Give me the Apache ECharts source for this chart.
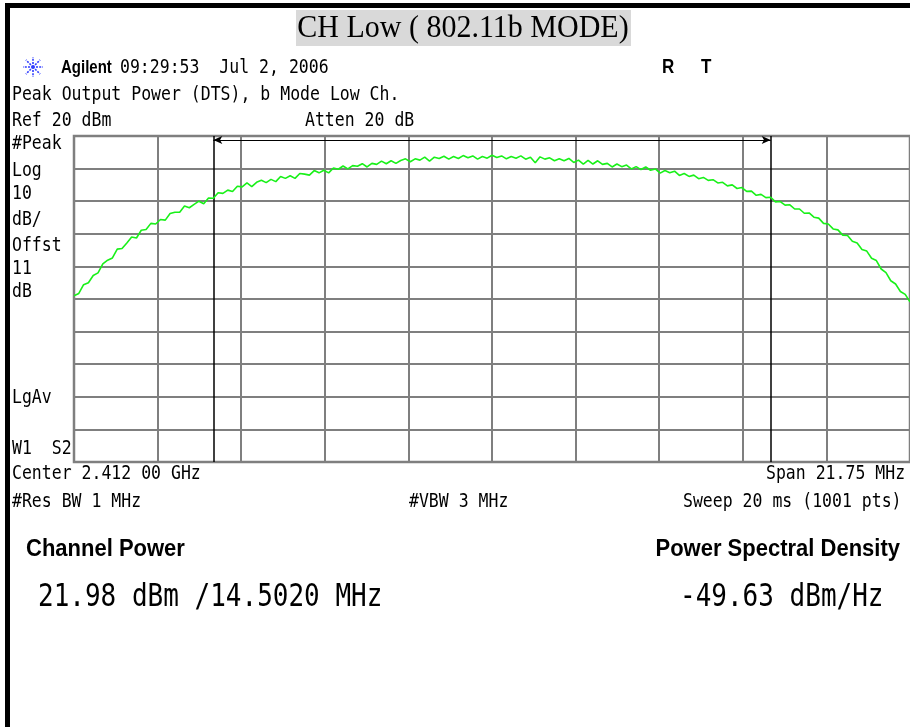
<!DOCTYPE html>
<html>
<head>
    <meta charset="utf-8">
    <title>CH Low (802.11b MODE)</title>
    <script src="https://cdn.jsdelivr.net/npm/echarts@6/dist/echarts.min.js"></script>
    <style>
        body { margin: 0; background: #fff; }
        #chart1 { width: 910px; height: 727px; }
    </style>
</head>
<body>
<div id="chart1"></div>

<script>
    // sweep settings
    var centerGHz = 2.412;
    var spanKHz = 21750;           // Span 21.75 MHz, x axis is offset from center in kHz
    var channelBwKHz = 14502;      // integration bandwidth (the two black lines)
    var refLevelDbm = 20;
    var dbPerDiv = 10;
    var arrowLevelDbm = 18.8;      // where the bandwidth arrow sits

    // trace level (dBm), evenly spaced over the span
    var levelDbm = [
        -29.0, -28.3, -25.6, -25.0, -22.8, -22.0, -19.2, -18.1, -17.4, -14.7,
        -14.5, -12.8, -11.0, -11.3, -8.9, -8.7, -6.8, -7.0, -5.6, -5.8,
        -3.8, -3.4, -3.4, -1.5, -2.0, -1.0, 0.0, -0.8, 1.0, 0.9,
        2.6, 2.4, 3.4, 3.0, 4.6, 4.4, 5.6, 4.5, 5.8, 6.4,
        5.7, 6.7, 6.0, 7.6, 7.0, 7.8, 7.0, 8.5, 8.3, 8.0,
        9.4, 8.7, 9.5, 8.7, 10.2, 9.8, 10.8, 9.9, 10.9, 10.7,
        11.5, 10.5, 11.6, 11.3, 12.3, 11.5, 12.4, 11.6, 12.5, 13.0,
        12.1, 13.0, 12.6, 13.5, 12.3, 13.5, 13.1, 13.8, 12.9, 13.7,
        13.1, 14.0, 13.3, 13.9, 12.9, 13.7, 13.2, 14.1, 13.4, 13.9,
        13.0, 13.7, 13.2, 13.9, 12.9, 13.5,
        11.8, 13.6, 12.9, 13.3, 12.4, 13.0, 12.4, 13.1, 11.9, 12.6,
        11.4, 12.5, 11.4, 12.4, 11.3, 11.6, 10.5, 11.4, 10.6, 11.1,
        9.9, 10.6, 9.7, 10.5, 9.5, 9.9, 8.6, 9.4, 8.7, 9.2,
        7.9, 8.5, 7.6, 8.0, 6.9, 7.3, 6.4, 6.6, 5.6, 5.8,
        4.7, 5.0, 3.9, 4.2, 3.0, 3.1, 1.8, 2.1, 1.1, 1.2,
        -0.2, -0.1, -1.2, -1.1, -2.4, -2.4, -3.7, -3.6, -4.9, -5.2,
        -6.8, -7.0, -8.5, -8.8, -10.4, -10.5, -12.3, -12.8, -14.8, -15.3,
        -17.5, -18.2, -20.8, -21.9, -24.4, -25.4, -27.7, -28.6, -30.9
    ];

    var leftLabels = ['#Peak', 'Log', '10', 'dB/', 'Offst', '11', 'dB', 'LgAv', 'W1  S2'];
    var leftLabelY = [144, 171, 194, 220, 246, 269, 292, 398, 449];

    // x of each trace point (analyzer bins across the span)
    var stepKHz = spanKHz / (levelDbm.length - 1);
    var trace = levelDbm.map(function (v, i) {
        return [-spanKHz / 2 + i * stepKHz, v];
    });

    var MONO = '"DejaVu Sans Mono", monospace';
    var SANS = '"Liberation Sans", Arial, sans-serif';

    // monospaced screen text, stretched a bit to look like the analyzer font
    function txt(s, x, y, size, opts) {
        opts = opts || {};
        return {
            type: 'text', x: x, y: y, scaleY: opts.sy || 1.2, z: 100,
            style: {
                text: s, font: (opts.bold ? 'bold ' : '') + size + 'px ' + (opts.family || MONO),
                fill: '#000', textAlign: opts.align || 'left', textVerticalAlign: 'middle'
            }
        };
    }

    var g = [
        // black frame bits
        { type: 'rect', shape: { x: 5, y: 3, width: 905, height: 5 }, style: { fill: '#000' } },
        { type: 'rect', shape: { x: 5, y: 3, width: 5, height: 724 }, style: { fill: '#000' } },
        // title
        { type: 'rect', shape: { x: 296, y: 10, width: 335, height: 36 }, style: { fill: '#d9d9d9' } },
        txt('CH Low ( 802.11b MODE)', 463, 28, 30, { family: '"Liberation Serif", "Times New Roman", serif', align: 'center', sy: 1.08 }),
        // header
        txt('Agilent', 61, 68, 15, { family: SANS, bold: true, sy: 1.2 }),
        txt('09:29:53  Jul 2, 2006', 120, 68, 16.5),
        txt('R', 662, 68, 17, { family: SANS, bold: true, sy: 1.15 }),
        txt('T', 701, 68, 17, { family: SANS, bold: true, sy: 1.15 }),
        txt('Peak Output Power (DTS), b Mode Low Ch.', 12, 95, 16.5),
        txt('Ref 20 dBm', 12, 121, 16.5),
        txt('Atten 20 dB', 305, 121, 16.5),
        // footer
        txt('Center 2.412 00 GHz', 12, 474, 16.5),
        txt('Span 21.75 MHz', 766, 474, 16.5),
        txt('#Res BW 1 MHz', 12, 502, 16.5),
        txt('#VBW 3 MHz', 409, 502, 16.5),
        txt('Sweep 20 ms (1001 pts)', 683, 502, 16.5),
        txt('Channel Power', 26, 550, 22, { family: SANS, bold: true, sy: 1.05 }),
        txt('Power Spectral Density', 900, 550, 22, { family: SANS, bold: true, sy: 1.05, align: 'right' }),
        txt('21.98 dBm /14.5020 MHz', 38, 598, 26, { sy: 1.22 }),
        txt('-49.63 dBm/Hz', 680, 598, 26, { sy: 1.22 })
    ];

    leftLabels.forEach(function (s, i) {
        g.push(txt(s, 12, leftLabelY[i], 16.5));
    });

    // Agilent spark logo
    for (var k = 0; k < 8; k++) {
        var a = k * Math.PI / 4;
        g.push({
            type: 'line',
            shape: { x1: 33 + 3 * Math.cos(a), y1: 67 + 3 * Math.sin(a), x2: 33 + 10 * Math.cos(a), y2: 67 + 10 * Math.sin(a) },
            style: { stroke: '#2f3cff', lineWidth: 1.6, lineDash: [2, 1.2] }
        });
    }
    g.push({ type: 'circle', shape: { cx: 33, cy: 67, r: 2 }, style: { fill: '#2f3cff' } });

    var myChart1 = echarts.init(document.getElementById('chart1'));

    myChart1.setOption({
        animation: false,
        backgroundColor: '#fff',
        graphic: g,
        grid: {
            left: 74, top: 136, width: 842, height: 326,
            show: true, borderColor: '#808080', borderWidth: 2.5, backgroundColor: '#fff'
        },
        xAxis: {
            type: 'value',
            min: -spanKHz / 2, max: spanKHz / 2, interval: spanKHz / 10,
            axisLine: { show: false }, axisTick: { show: false }, axisLabel: { show: false },
            splitLine: { lineStyle: { color: '#7f7f7f', width: 2 } }
        },
        yAxis: {
            type: 'value',
            min: refLevelDbm - 10 * dbPerDiv, max: refLevelDbm, interval: dbPerDiv,
            axisLine: { show: false }, axisTick: { show: false }, axisLabel: { show: false },
            splitLine: { lineStyle: { color: '#7f7f7f', width: 2 } }
        },
        series: [{
            name: 'trace',
            type: 'line',
            data: trace,
            showSymbol: false,
            lineStyle: { color: '#19f019', width: 1.6 },
            z: 5,
            markLine: {
                silent: true,
                symbol: 'none',
                label: { show: false },
                data: [
                    { xAxis: -channelBwKHz / 2, lineStyle: { color: '#000', width: 1.5, type: 'solid' } },
                    { xAxis: channelBwKHz / 2, lineStyle: { color: '#000', width: 1.5, type: 'solid' } },
                    [
                        { coord: [-channelBwKHz / 2, arrowLevelDbm], symbol: 'arrow', symbolSize: [6, 9], symbolRotate: 90 },
                        { coord: [channelBwKHz / 2, arrowLevelDbm], symbol: 'arrow', symbolSize: [6, 9], symbolRotate: -90,
                          lineStyle: { color: '#000', width: 1, type: 'solid' } }
                    ]
                ]
            }
        }]
    });
</script>
</body>
</html>
